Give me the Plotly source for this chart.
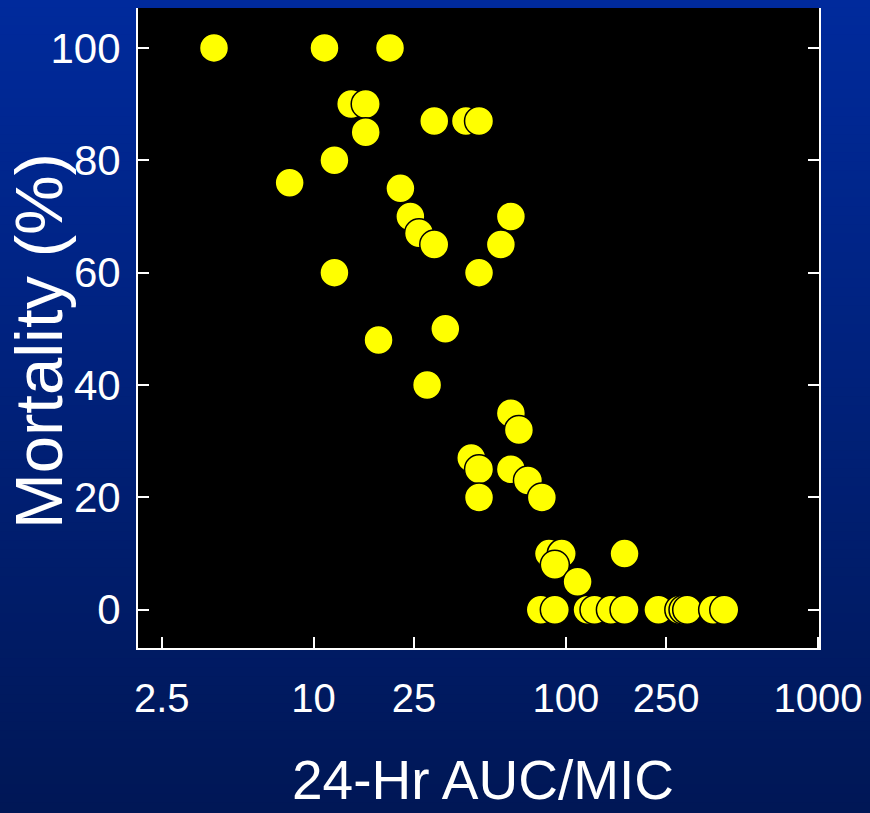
import plotly.graph_objects as go

# Data
auc_mic = [4.03, 11.05, 20.1, 8.04, 12.1, 14.1, 16.1, 16.1, 30.1, 40.2, 45.3,
           12.1, 22.1, 24.2, 26.2, 30.1, 45.3, 55.3, 60.6, 18.1, 33.3, 28.2,
           60.6, 65.2, 42.2, 45.3, 45.3, 60.6, 70.8, 80.4, 85.8, 96.4, 90.5,
           171, 111.4, 79.6, 90.5, 122, 130, 151, 171, 233, 282, 293, 303, 384, 425]
mortality = [100, 100, 100, 76, 80, 90, 90, 85, 87, 87, 87,
             60, 75, 70, 67, 65, 60, 65, 70, 48, 50, 40,
             35, 32, 27, 25, 20, 25, 23, 20, 10, 10, 8,
             10, 5, 0, 0, 0, 0, 0, 0, 0, 0, 0, 0, 0, 0]
x_tickvals = [2.5, 10, 25, 100, 250, 1000]
x_ticktext = ["2.5", "10", "25", "100", "250", "1000"]
y_tickvals = [0, 20, 40, 60, 80, 100]

W, H = 870, 813
L, R, T, B = 138, 49, 8, 165

FONT = "Liberation Sans, Arial, sans-serif"

fig = go.Figure()
fig.add_trace(go.Scatter(
    x=auc_mic, y=mortality, mode="markers",
    marker=dict(size=29, color="#ffff00", line=dict(color="black", width=1.5)),
    showlegend=False, hoverinfo="x+y"))

# background gradient strips
shapes = []
n = 90
top = (0, 42, 156)
bot = (0, 23, 86)
ph = H - T - B
for i in range(n):
    t = i / (n - 1)
    c = tuple(round(top[k] + (bot[k] - top[k]) * t) for k in range(3))
    shapes.append(dict(type="rect", xref="paper", yref="paper",
                       x0=-0.3, x1=1.2,
                       y0=1 + T / ph - (i + 1) * (H / n) / ph - 0.002,
                       y1=1 + T / ph - i * (H / n) / ph + 0.002,
                       line=dict(width=0), fillcolor="rgb(%d,%d,%d)" % c, layer="below"))
shapes.append(dict(type="rect", xref="x domain", yref="y domain", x0=0, x1=1, y0=0, y1=1,
                   line=dict(width=0), fillcolor="black", layer="below"))

fig.update_layout(
    width=W, height=H,
    margin=dict(l=L, r=R, t=T, b=B),
    paper_bgcolor="#001a60", plot_bgcolor="black",
    shapes=shapes,
    xaxis=dict(type="log", range=[0.304, 3.004], tickvals=x_tickvals, ticktext=x_ticktext,
               showgrid=False, zeroline=False, showline=True, linecolor="white", linewidth=2,
               ticks="inside", ticklen=11, tickwidth=2, tickcolor="white",
               tickfont=dict(family=FONT, size=40, color="white"),
               ticklabelstandoff=14, ticklabeloverflow="allow", mirror=False),
    yaxis=dict(range=[-6.8, 107.1], tickvals=y_tickvals,
               showgrid=False, zeroline=False, showline=True, linecolor="white", linewidth=2,
               ticks="inside", ticklen=11, tickwidth=2, tickcolor="white",
               tickfont=dict(family=FONT, size=42, color="white"),
               ticklabelstandoff=7, mirror="ticks"),
    annotations=[
        dict(text="24-Hr AUC/MIC", xref="paper", yref="paper", x=0.5066, y=-0.207,
             xanchor="center", yanchor="middle", showarrow=False,
             font=dict(family=FONT, size=55, color="white")),
        dict(text="Mortality (%)", xref="paper", yref="paper", x=-0.145, y=0.48,
             xanchor="center", yanchor="middle", textangle=-90, showarrow=False,
             font=dict(family=FONT, size=67, color="white")),
    ],
)

fig.write_html("out.html", config={"displayModeBar": False},
               post_script="document.body.style.margin='0';document.documentElement.style.margin='0';")
